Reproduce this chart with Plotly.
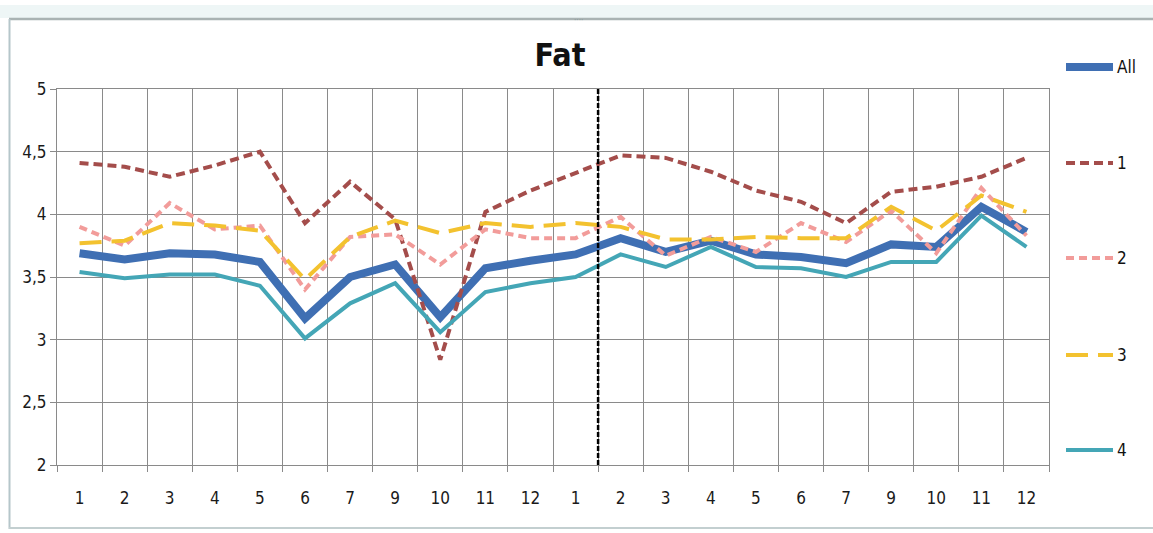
import plotly.graph_objects as go

# Month labels along the category axis (month 8 has no data)
months = ["1", "2", "3", "4", "5", "6", "7", "9", "10", "11", "12",
          "1", "2", "3", "4", "5", "6", "7", "9", "10", "11", "12"]

# Fat content per month
fat_all = [3.69, 3.64, 3.69, 3.68, 3.62, 3.17, 3.50, 3.60, 3.18, 3.57, 3.63,
           3.68, 3.81, 3.70, 3.79, 3.68, 3.66, 3.61, 3.76, 3.74, 4.06, 3.86]
fat_1 = [4.41, 4.38, 4.30, 4.39, 4.50, 3.93, 4.26, 3.96, 2.84, 4.02, 4.19,
         4.33, 4.47, 4.45, 4.34, 4.19, 4.10, 3.93, 4.18, 4.22, 4.30, 4.45]
fat_2 = [3.90, 3.75, 4.09, 3.88, 3.91, 3.40, 3.82, 3.84, 3.60, 3.88, 3.81,
         3.81, 3.98, 3.67, 3.82, 3.70, 3.93, 3.78, 4.03, 3.69, 4.21, 3.83]
fat_3 = [3.77, 3.79, 3.93, 3.91, 3.87, 3.48, 3.82, 3.95, 3.85, 3.93, 3.90,
         3.93, 3.90, 3.80, 3.80, 3.82, 3.81, 3.81, 4.06, 3.87, 4.15, 4.02]
fat_4 = [3.54, 3.49, 3.52, 3.52, 3.43, 3.01, 3.29, 3.45, 3.06, 3.38, 3.45,
         3.50, 3.68, 3.58, 3.74, 3.58, 3.57, 3.50, 3.62, 3.62, 3.99, 3.74]

y_ticks = [2, 2.5, 3, 3.5, 4, 4.5, 5]
y_tick_text = ["2", "2,5", "3", "3,5", "4", "4,5", "5"]

W, H = 1153, 533
L, R, T, B = 57, 1049, 89, 465

FONT = "DejaVu Sans Condensed, Liberation Sans Narrow, Roboto, sans-serif"


def px(x):
    return (x - L) / (R - L)


def py(y):
    return (B - y) / (B - T)


xs = list(range(len(months)))

series = [
    ("All", fat_all, dict(color="#3F6FB3", width=8)),
    ("1", fat_1, dict(color="#A44D4B", width=4, dash="9px,5px")),
    ("2", fat_2, dict(color="#F29C9A", width=4, dash="8px,5px")),
    ("3", fat_3, dict(color="#F3C22F", width=4, dash="22px,10px")),
    ("4", fat_4, dict(color="#44A6B6", width=4)),
]

fig = go.Figure()
for name, vals, line in series:
    fig.add_trace(go.Scatter(
        x=xs, y=vals, name=name, mode="lines", line=line,
        hoverinfo="x+y+name", showlegend=False,
    ))

# Legend column on the right, one entry per series
legend_rows = [67, 163, 258, 355, 450]
for (name, _, line), ly in zip(series, legend_rows):
    fig.add_shape(type="line", xref="paper", yref="paper",
                  x0=px(1066), x1=px(1113), y0=py(ly), y1=py(ly),
                  line=line)
    fig.add_annotation(xref="paper", yref="paper", x=px(1115), y=py(ly),
                       xanchor="left", yanchor="middle", text=name,
                       showarrow=False,
                       font=dict(family=FONT, size=17, color="#111111"))

grid = "#8A8A8A"
boundaries = [i - 0.5 for i in range(len(months) + 1)]

fig.update_xaxes(
    range=[-0.5, len(months) - 0.5],
    tickvals=xs, ticktext=months, ticks="",
    showgrid=False, zeroline=False,
    showline=True, linecolor=grid, linewidth=1, mirror=True,
    minor=dict(tickvals=boundaries, ticks="outside", ticklen=6,
               tickcolor=grid, showgrid=True, gridcolor=grid, gridwidth=1),
    ticklabelstandoff=18,
    tickfont=dict(family=FONT, size=17, color="#1A1A1A"),
)
fig.update_yaxes(
    range=[2, 5], tickvals=y_ticks, ticktext=y_tick_text,
    ticks="outside", ticklen=6, tickcolor=grid,
    showgrid=True, gridcolor=grid, gridwidth=1, zeroline=False,
    showline=True, linecolor=grid, linewidth=1, mirror=True,
    tickfont=dict(family=FONT, size=17, color="#1A1A1A"),
)

# Dashed divider between the two years
fig.add_shape(type="line", xref="x", yref="y", x0=11.5, x1=11.5, y0=2, y1=5,
              line=dict(color="black", width=2.5, dash="5px,2px"), layer="above")

# Window frame around the chart object
fig.add_shape(type="rect", xref="paper", yref="paper",
              x0=px(0), x1=px(W), y0=py(5), y1=py(18),
              fillcolor="#EEF6F6", line=dict(width=0), layer="below")
fig.add_shape(type="line", xref="paper", yref="paper",
              x0=px(9), x1=px(W), y0=py(19), y1=py(19),
              line=dict(color="#A9B3B3", width=2.5))
fig.add_shape(type="line", xref="paper", yref="paper",
              x0=px(9.5), x1=px(9.5), y0=py(19), y1=py(529),
              line=dict(color="#B5C6CA", width=2))
fig.add_shape(type="line", xref="paper", yref="paper",
              x0=px(9), x1=px(W), y0=py(528), y1=py(528),
              line=dict(color="#C3CFD0", width=2))
fig.add_annotation(xref="paper", yref="paper", x=px(578), y=py(11),
                   text="····", showarrow=False,
                   font=dict(size=9, color="#8A9A9A"))

fig.update_layout(
    width=W, height=H,
    margin=dict(l=L, r=W - R, t=T, b=H - B),
    paper_bgcolor="white", plot_bgcolor="white",
    title=dict(text="<b>Fat</b>", x=560 / W, xanchor="center",
               y=1 - 55 / H, yanchor="middle", yref="container",
               font=dict(family=FONT, size=32, color="#111111")),
    showlegend=False,
)

fig.write_html("out.html")
